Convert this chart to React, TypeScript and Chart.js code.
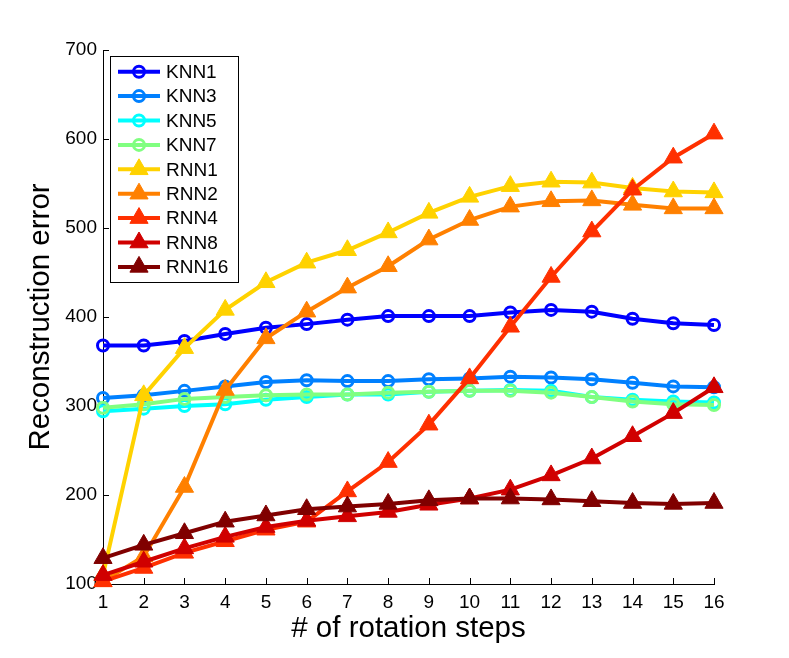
import React, { useEffect, useRef } from "react";
import { Chart, registerables } from "chart.js";

Chart.register(...registerables);

const steps = ["1", "2", "3", "4", "5", "6", "7", "8", "9", "10", "11", "12", "13", "14", "15", "16"];
const yTicks = [100, 200, 300, 400, 500, 600, 700];

const knn1 = [368, 368, 373, 381, 388, 392, 397, 401, 401, 401, 405, 408, 406, 398, 393, 391];
const knn3 = [309, 312, 317, 322, 327, 329, 328, 328, 330, 331, 333, 332, 330, 326, 322, 321];
const knn5 = [294, 297, 300, 302, 307, 310, 313, 313, 316, 317, 318, 317, 310, 307, 305, 304];
const knn7 = [298, 302, 308, 310, 312, 313, 313, 315, 316, 317, 317, 315, 310, 305, 302, 301];
const rnn1 = [110, 312, 365, 408, 439, 461, 475, 495, 517, 535, 547, 552, 551, 545, 541, 540];
const rnn2 = [103, 131, 209, 318, 376, 406, 433, 457, 487, 509, 524, 530, 531, 526, 522, 522];
const rnn4 = [103, 118, 135, 148, 161, 170, 204, 237, 279, 331, 389, 445, 496, 543, 579, 606];
const rnn8 = [110, 125, 140, 153, 164, 171, 176, 181, 189, 196, 206, 222, 241, 266, 292, 321];
const rnn16 = [129, 144, 157, 170, 177, 184, 187, 190, 194, 196, 196, 195, 193, 191, 190, 191];

const seriesNames = ["KNN1", "KNN3", "KNN5", "KNN7", "RNN1", "RNN2", "RNN4", "RNN8", "RNN16"];
const seriesValues = [knn1, knn3, knn5, knn7, rnn1, rnn2, rnn4, rnn8, rnn16];
const seriesColors = ["#0000ff", "#0080ff", "#00ffff", "#80ff80", "#ffd200", "#ff8000", "#ff3000", "#d00000", "#800000"];
const seriesMarkers = ["circle", "circle", "circle", "circle", "triangle", "triangle", "triangle", "triangle", "triangle"];

const FONT = "'Liberation Sans', Arial, Helvetica, sans-serif";

const inwardTicks = {
  id: "inwardTicks",
  beforeDatasetsDraw(chart: any) {
    const ctx = chart.ctx;
    const { x, y } = chart.scales;
    const area = chart.chartArea;
    ctx.save();
    ctx.strokeStyle = "#000";
    ctx.lineWidth = 1;
    ctx.beginPath();
    for (let i = 0; i < steps.length; i++) {
      const px = Math.round(x.getPixelForTick(i)) + 0.5;
      ctx.moveTo(px, area.bottom);
      ctx.lineTo(px, area.bottom - 6);
    }
    for (const v of yTicks) {
      const py = Math.round(y.getPixelForValue(v)) + 0.5;
      ctx.moveTo(area.left, py);
      ctx.lineTo(area.left + 6, py);
    }
    ctx.stroke();
    ctx.restore();
  },
};

const boxLegend = {
  id: "boxLegend",
  afterDraw(chart: any) {
    const ctx = chart.ctx;
    const bx = 110, by = 56, bw = 128, bh = 226;
    const rowTop = 71.7, rowGap = 24.4;
    ctx.save();
    ctx.fillStyle = "#fff";
    ctx.fillRect(bx, by, bw, bh);
    ctx.strokeStyle = "#000";
    ctx.lineWidth = 1;
    ctx.strokeRect(bx + 0.5, by + 0.5, bw, bh);
    seriesNames.forEach((name, i) => {
      const cy = rowTop + i * rowGap;
      const col = seriesColors[i];
      ctx.strokeStyle = col;
      ctx.lineWidth = 4;
      ctx.beginPath();
      ctx.moveTo(118, cy);
      ctx.lineTo(160, cy);
      ctx.stroke();
      const mx = 139;
      if (seriesMarkers[i] === "circle") {
        ctx.lineWidth = 3;
        ctx.beginPath();
        ctx.arc(mx, cy, 5.5, 0, Math.PI * 2);
        ctx.stroke();
      } else {
        const r = 10.5;
        ctx.fillStyle = col;
        ctx.lineWidth = 1;
        ctx.beginPath();
        ctx.moveTo(mx, cy - r);
        ctx.lineTo(mx + r * Math.sin((2 * Math.PI) / 3), cy - r * Math.cos((2 * Math.PI) / 3));
        ctx.lineTo(mx + r * Math.sin((4 * Math.PI) / 3), cy - r * Math.cos((4 * Math.PI) / 3));
        ctx.closePath();
        ctx.fill();
        ctx.stroke();
      }
      ctx.fillStyle = "#000";
      ctx.font = `19px ${FONT}`;
      ctx.textAlign = "left";
      ctx.textBaseline = "middle";
      ctx.fillText(name, 166, cy + 1);
    });
    ctx.restore();
  },
};

export default function App() {
  const ref = useRef<HTMLCanvasElement | null>(null);

  useEffect(() => {
    if (!ref.current) return;
    const n = seriesNames.length;
    const chart = new Chart(ref.current, {
      type: "line",
      data: {
        labels: steps,
        datasets: seriesNames.map((name, i) => ({
          label: name,
          data: seriesValues[i],
          borderColor: seriesColors[i],
          backgroundColor: seriesMarkers[i] === "circle" ? "rgba(0,0,0,0)" : seriesColors[i],
          pointBackgroundColor: seriesMarkers[i] === "circle" ? "rgba(0,0,0,0)" : seriesColors[i],
          pointBorderColor: seriesColors[i],
          pointStyle: seriesMarkers[i] as any,
          pointRadius: seriesMarkers[i] === "circle" ? 5.5 : 10.5,
          pointBorderWidth: seriesMarkers[i] === "circle" ? 3 : 1,
          borderWidth: 4,
          tension: 0,
          fill: false,
          clip: false as any,
          order: n - i,
        })),
      },
      options: {
        responsive: false,
        animation: false,
        devicePixelRatio: 1,
        layout: { padding: { left: 0, top: 50, right: 75, bottom: 0 } },
        plugins: {
          legend: { display: false },
          tooltip: { enabled: false },
        },
        scales: {
          x: {
            type: "category",
            offset: false,
            grid: { display: true, drawOnChartArea: false, drawTicks: false },
            border: { display: true, color: "#000", width: 1 },
            ticks: { color: "#000", font: { family: FONT, size: 19 }, padding: 7, autoSkip: false, maxRotation: 0 },
            title: {
              display: true,
              text: "# of rotation steps",
              color: "#000",
              font: { family: FONT, size: 29.5 },
              padding: { top: 0, bottom: 11 },
            },
            afterFit: (s: any) => {
              s.height = 74;
            },
          },
          y: {
            min: 100,
            max: 700,
            grid: { display: true, drawOnChartArea: false, drawTicks: false },
            border: { display: true, color: "#000", width: 1 },
            ticks: { stepSize: 100, color: "#000", font: { family: FONT, size: 19 }, padding: 6 },
            title: {
              display: true,
              text: "Reconstruction error",
              color: "#000",
              font: { family: FONT, size: 29.5 },
              padding: { top: 23, bottom: 0 },
            },
            afterFit: (s: any) => {
              s.width = 103;
            },
          },
        },
      },
      plugins: [inwardTicks, boxLegend],
    });
    return () => chart.destroy();
  }, []);

  return (
    <div style={{ position: "absolute", left: 0, top: 0, width: 789, height: 658, background: "#fff" }}>
      <canvas ref={ref} width={789} height={658} style={{ width: 789, height: 658 }} />
    </div>
  );
}
